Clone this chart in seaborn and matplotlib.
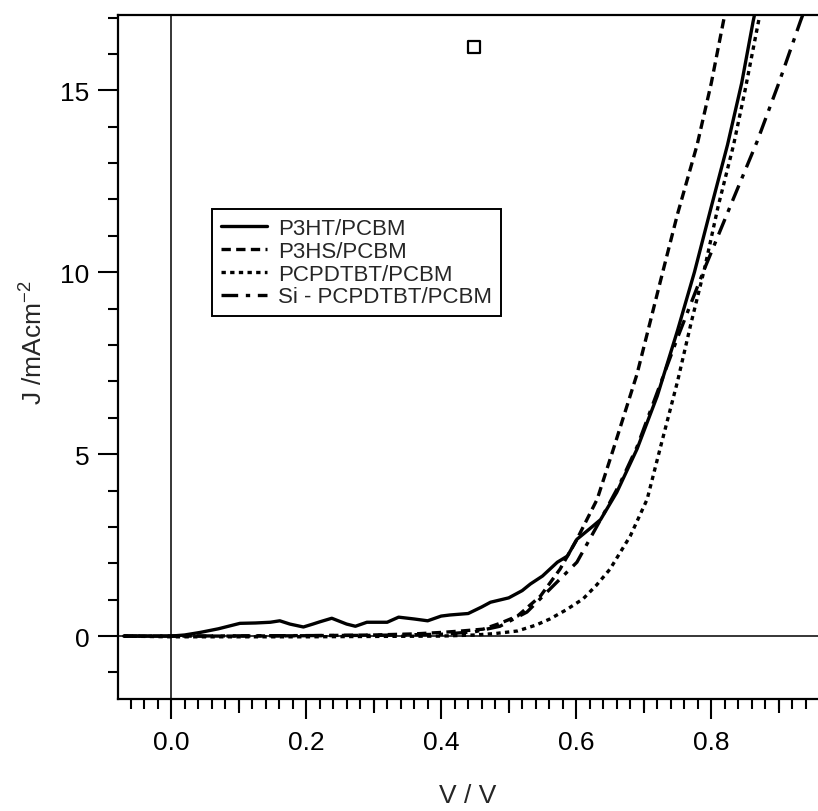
import numpy as np
import pandas as pd
import matplotlib
matplotlib.use('Agg')
import matplotlib.pyplot as plt
from matplotlib.ticker import MultipleLocator, FixedLocator, FormatStrFormatter
import seaborn as sns

# J-V curves (V in volts, J in mA/cm2)
p3ht_v = [-0.07, -0.04, 0.0, 0.02, 0.043, 0.07, 0.102, 0.125, 0.147, 0.161, 0.176,
          0.196, 0.21, 0.22, 0.238, 0.26, 0.273, 0.29, 0.32, 0.337, 0.36, 0.38,
          0.40, 0.413, 0.44, 0.46, 0.473, 0.50, 0.52, 0.532, 0.55, 0.572, 0.587,
          0.601, 0.62, 0.636, 0.66, 0.69, 0.72, 0.75, 0.775, 0.80, 0.824, 0.845,
          0.862, 0.87]
p3ht_j = [0, 0, 0, 0.03, 0.1, 0.2, 0.35, 0.36, 0.38, 0.42, 0.33,
          0.25, 0.33, 0.39, 0.49, 0.33, 0.27, 0.38, 0.38, 0.52, 0.47, 0.42,
          0.55, 0.58, 0.62, 0.8, 0.93, 1.05, 1.25, 1.43, 1.65, 2.03, 2.2,
          2.66, 2.95, 3.2, 3.95, 5.14, 6.6, 8.4, 10.0, 11.8, 13.5, 15.2,
          16.9, 17.6]

p3hs_v = [-0.07, 0.0, 0.1, 0.2, 0.3, 0.36, 0.40, 0.43, 0.462, 0.487, 0.513, 0.547,
          0.576, 0.601, 0.631, 0.655, 0.69, 0.728, 0.75, 0.779, 0.80, 0.818, 0.825]
p3hs_j = [0, 0, 0.0, 0.01, 0.03, 0.06, 0.1, 0.14, 0.19, 0.35, 0.55, 1.1,
          1.84, 2.66, 3.76, 5.14, 7.2, 10.0, 11.6, 13.5, 15.2, 16.9, 17.5]

pcpdtbt_v = [-0.07, 0.0, 0.2, 0.4, 0.45, 0.48, 0.513, 0.54, 0.561, 0.585, 0.61,
             0.63, 0.65, 0.68, 0.705, 0.724, 0.75, 0.77, 0.79, 0.81, 0.833, 0.85,
             0.87, 0.875]
pcpdtbt_j = [0, -0.02, -0.02, 0.0, 0.03, 0.07, 0.14, 0.3, 0.47, 0.72, 1.02,
             1.4, 1.84, 2.75, 3.76, 5.14, 7.0, 8.6, 10.1, 11.8, 13.5, 15.0,
             16.9, 17.4]

si_v = [-0.07, 0.0, 0.3, 0.4, 0.45, 0.487, 0.527, 0.561, 0.601, 0.636, 0.665,
        0.69, 0.72, 0.75, 0.79, 0.83, 0.868, 0.90, 0.932, 0.94]
si_j = [0, 0, 0.02, 0.05, 0.12, 0.27, 0.66, 1.29, 2.03, 3.2, 4.2,
        5.2, 6.7, 8.2, 10.1, 11.9, 13.6, 15.2, 16.9, 17.3]

labels = ['P3HT/PCBM', 'P3HS/PCBM', 'PCPDTBT/PCBM', 'Si - PCPDTBT/PCBM']

# stray open square marker
marker_v = [0.449]
marker_j = [16.2]

sns.set_theme(style='ticks')
plt.rcParams['font.family'] = ['Liberation Sans', 'DejaVu Sans']
plt.rcParams['mathtext.fontset'] = 'custom'
plt.rcParams['mathtext.rm'] = 'Liberation Sans'
plt.rcParams['mathtext.it'] = 'Liberation Sans'

fig = plt.figure(figsize=(8.18, 8.12), dpi=100)
ax = fig.add_axes([0.1443, 0.1379, 0.8557, 0.8424])

ax.axhline(0, color='black', lw=1.1, zorder=1)
ax.axvline(0, color='black', lw=1.1, zorder=1)

styles = ['-', (0, (2.8, 1.6)), (0, (1.3, 1.3)), (0, (5.0, 2.3, 1.3, 2.3))]
series = [(p3ht_v, p3ht_j), (p3hs_v, p3hs_j), (pcpdtbt_v, pcpdtbt_j), (si_v, si_j)]
for (v, j), lab, ls in zip(series, labels, styles):
    df = pd.DataFrame({'V': v, 'J': j})
    sns.lineplot(data=df, x='V', y='J', ax=ax, color='black', lw=2.4,
                 linestyle=ls, label=lab, estimator=None, sort=False)

sns.scatterplot(x=marker_v, y=marker_j, ax=ax, marker='s', s=70,
                facecolor='white', edgecolor='black', linewidth=1.6, zorder=5)

ax.set_xlim(-0.0785, 0.958)
ax.set_ylim(-1.73, 17.07)

ax.xaxis.set_major_locator(FixedLocator([0.0, 0.2, 0.4, 0.6, 0.8]))
ax.xaxis.set_major_formatter(FormatStrFormatter('%.1f'))
ax.xaxis.set_minor_locator(MultipleLocator(0.02))
ax.yaxis.set_major_locator(MultipleLocator(5))
ax.yaxis.set_minor_locator(MultipleLocator(1))

ax.tick_params(which='major', direction='out', length=14.4, width=1.5,
               labelsize=19, color='black', labelcolor='black')
ax.tick_params(which='minor', direction='out', length=7.2, width=1.5,
               color='black')
ax.tick_params(axis='x', which='major', pad=8)
ax.tick_params(axis='y', which='major', pad=6)

# medium ticks at the odd tenths
sec = ax.secondary_xaxis('bottom')
sec.set_xticks([-0.1, 0.1, 0.3, 0.5, 0.7, 0.9])
sec.tick_params(direction='out', length=10, width=1.5, labelbottom=False,
                color='black')
sec.spines['bottom'].set_visible(False)

for s in ['left', 'bottom', 'top']:
    ax.spines[s].set_linewidth(1.6)
    ax.spines[s].set_color('black')
ax.spines['right'].set_visible(False)

ax.set_xlabel('V / V', fontsize=19, labelpad=21)
ax.set_ylabel('J /mAcm$^{-2}$', fontsize=19)
ax.yaxis.set_label_coords(-0.1, 0.522)

leg = ax.legend(loc='upper left', bbox_to_anchor=(0.134, 0.716), fontsize=16,
                frameon=True, fancybox=False, handlelength=2.1,
                handletextpad=0.5, labelspacing=0.08, borderpad=0.4,
                borderaxespad=0)
leg.get_frame().set_edgecolor('black')
leg.get_frame().set_linewidth(1.4)
leg.get_frame().set_alpha(1)

fig.savefig('out.png', dpi=100)
